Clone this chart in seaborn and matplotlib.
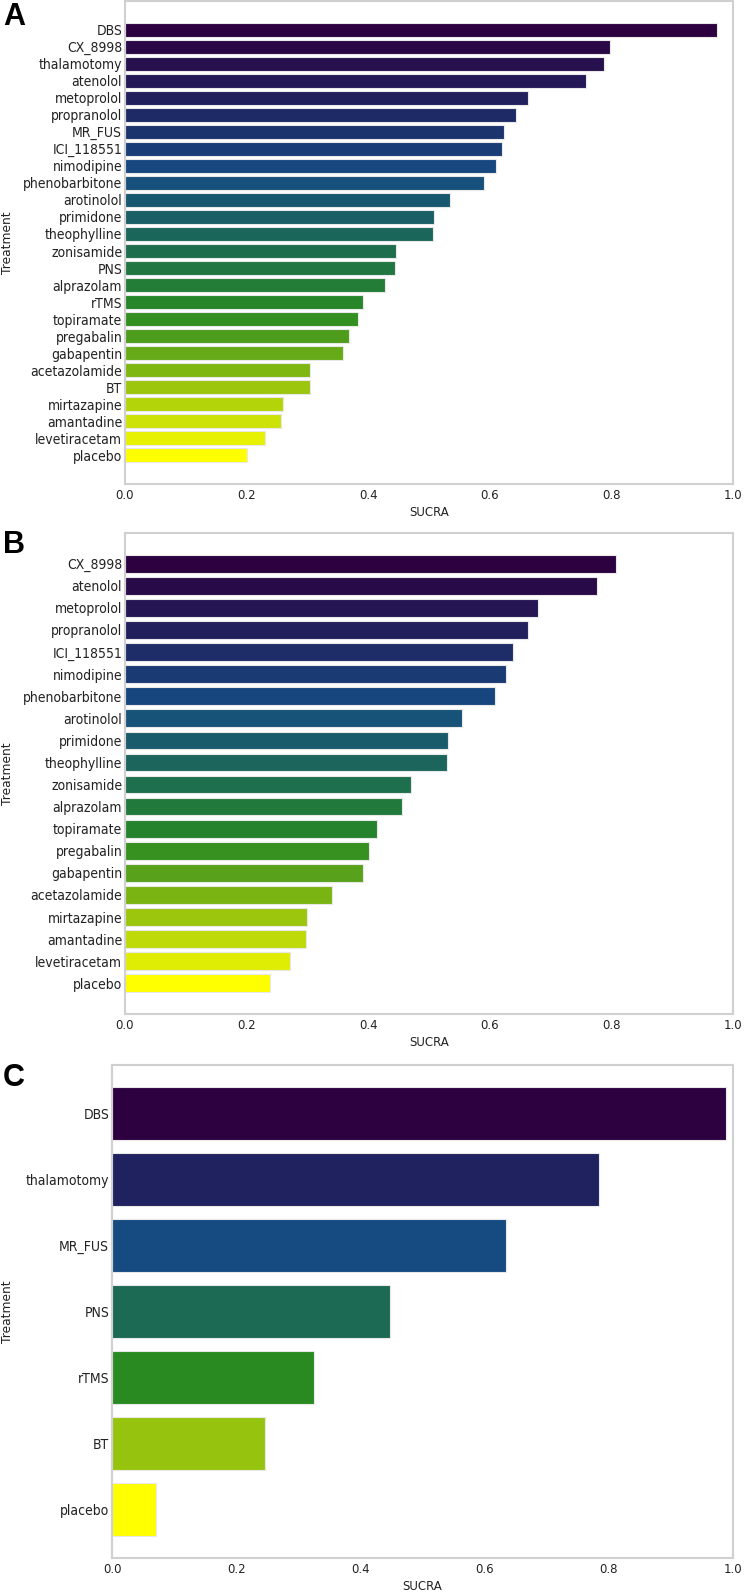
import numpy as np
import pandas as pd
import matplotlib
matplotlib.use("Agg")
import matplotlib.pyplot as plt
from matplotlib.colors import LinearSegmentedColormap, to_hex
from matplotlib import font_manager
import seaborn as sns

# ---------------- data ----------------
a_treatments = ["DBS", "CX_8998", "thalamotomy", "atenolol", "metoprolol", "propranolol",
                "MR_FUS", "ICI_118551", "nimodipine", "phenobarbitone", "arotinolol",
                "primidone", "theophylline", "zonisamide", "PNS", "alprazolam", "rTMS",
                "topiramate", "pregabalin", "gabapentin", "acetazolamide", "BT",
                "mirtazapine", "amantadine", "levetiracetam", "placebo"]
a_sucra = [0.973, 0.798, 0.788, 0.759, 0.663, 0.643, 0.623, 0.620, 0.610, 0.591, 0.534,
           0.509, 0.507, 0.446, 0.444, 0.427, 0.392, 0.383, 0.369, 0.359, 0.305, 0.305,
           0.260, 0.257, 0.231, 0.201]

b_treatments = ["CX_8998", "atenolol", "metoprolol", "propranolol", "ICI_118551",
                "nimodipine", "phenobarbitone", "arotinolol", "primidone", "theophylline",
                "zonisamide", "alprazolam", "topiramate", "pregabalin", "gabapentin",
                "acetazolamide", "mirtazapine", "amantadine", "levetiracetam", "placebo"]
b_sucra = [0.807, 0.776, 0.680, 0.663, 0.638, 0.626, 0.609, 0.555, 0.532, 0.530,
           0.470, 0.455, 0.415, 0.402, 0.391, 0.341, 0.300, 0.297, 0.272, 0.239]

c_treatments = ["DBS", "thalamotomy", "MR_FUS", "PNS", "rTMS", "BT", "placebo"]
c_sucra = [0.989, 0.784, 0.635, 0.447, 0.326, 0.246, 0.071]

panel_letters = ["A", "B", "C"]
x_ticks = [0.0, 0.2, 0.4, 0.6, 0.8, 1.0]

# ---------------- style ----------------
sns.set_theme(style="whitegrid")
plt.rcParams["font.family"] = ["DejaVu Sans"]

# condensed face for category labels if available
cond_names = {f.name for f in font_manager.fontManager.ttflist}
ytick_family = "DejaVu Sans"
ytick_stretch = "normal"
ytick_size = 8.8
for f in font_manager.fontManager.ttflist:
    if f.name == "DejaVu Sans" and str(f.stretch) in ("condensed", "semi-condensed"):
        ytick_stretch = "condensed"
        ytick_size = 10
        break
else:
    if "DejaVu Sans Condensed" in cond_names:
        ytick_family = "DejaVu Sans Condensed"
        ytick_size = 10

anchor_colors = ["#2d003f", "#20225f", "#164b82", "#1c6a55", "#298a22", "#95c20e", "#ffff00"]
cmap = LinearSegmentedColormap.from_list("sucra", anchor_colors)

W, H = 744, 1592
fig = plt.figure(figsize=(W / 100, H / 100), dpi=100)

# axes boxes in pixels: left, right, top, bottom
boxes = [(125, 733, 1, 484), (125, 733, 533, 1014), (112, 733, 1065, 1558)]
letter_y = [2, 530, 1063]
panels = [(a_treatments, a_sucra), (b_treatments, b_sucra), (c_treatments, c_sucra)]

for (names, vals), (l, r, t, b), letter, ly in zip(panels, boxes, panel_letters, letter_y):
    ax = fig.add_axes([l / W, (H - b) / H, (r - l) / W, (b - t) / H])
    n = len(names)
    colors = [to_hex(cmap(i / (n - 1))) for i in range(n)]
    df = pd.DataFrame({"Treatment": names, "SUCRA": vals})
    sns.barplot(data=df, x="SUCRA", y="Treatment", hue="Treatment", palette=colors,
                legend=False, saturation=1, orient="h", width=0.8, ax=ax,
                edgecolor="#e8e8e8", linewidth=0.8)
    pad = 0.4 + 0.05 * (n - 1 + 0.8)
    ax.set_ylim(n - 1 + pad, -pad)
    ax.set_xlim(0, 1)
    ax.set_xticks(x_ticks)
    ax.set_xticklabels([f"{v:.1f}" for v in x_ticks])
    ax.grid(False)
    for s in ax.spines.values():
        s.set_edgecolor("#d0d0d0")
        s.set_linewidth(1.5)
    ax.tick_params(axis="both", length=0, colors="#222222")
    ax.tick_params(axis="x", labelsize=8.5, pad=3.5)
    ax.tick_params(axis="y", pad=2)
    for lab in ax.get_yticklabels():
        lab.set_family(ytick_family)
        lab.set_fontstretch(ytick_stretch)
        lab.set_fontsize(ytick_size)
    ax.set_xlabel("SUCRA", fontsize=8.5, color="#222222", labelpad=3)
    ax.set_ylabel("Treatment", fontsize=8.8, color="#222222", va="center")
    ax.yaxis.set_label_coords((8 - l) / (r - l), 0.5)
    fig.text(3 / W, 1 - ly / H, letter, fontsize=22, fontweight="bold",
             family=["Liberation Sans", "DejaVu Sans"], va="top", ha="left", color="black")

fig.savefig("out.png", dpi=100)
